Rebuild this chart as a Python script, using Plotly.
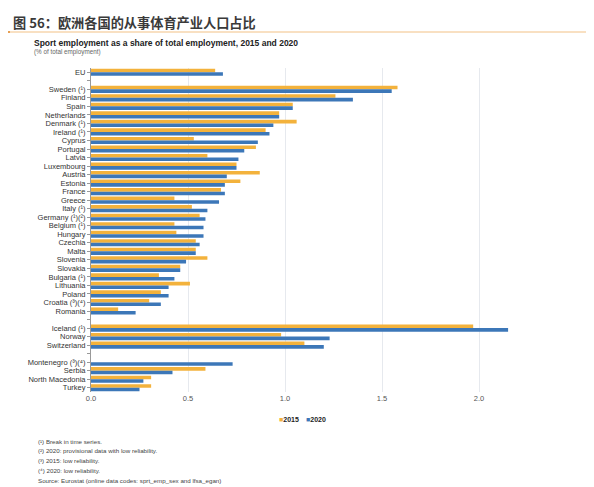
import plotly.graph_objects as go

categories = ["EU", " ",
              "Sweden (¹)", "Finland", "Spain", "Netherlands", "Denmark (¹)", "Ireland (¹)",
              "Cyprus", "Portugal", "Latvia", "Luxembourg", "Austria", "Estonia", "France",
              "Greece", "Italy (¹)", "Germany (¹)(²)", "Belgium (¹)", "Hungary", "Czechia",
              "Malta", "Slovenia", "Slovakia", "Bulgaria (¹)", "Lithuania", "Poland",
              "Croatia (³)(⁴)", "Romania", "  ",
              "Iceland (¹)", "Norway", "Switzerland", "   ",
              "Montenegro (³)(⁴)", "Serbia", "North Macedonia", "Turkey"]

values_2015 = [0.64, None,
               1.58, 1.26, 1.04, 0.97, 1.06, 0.90,
               0.53, 0.85, 0.60, 0.75, 0.87, 0.77, 0.67,
               0.43, 0.52, 0.56, 0.43, 0.44, 0.54,
               0.54, 0.60, 0.46, 0.35, 0.51, 0.36,
               0.30, 0.14, None,
               1.97, 0.98, 1.10, None,
               None, 0.59, 0.31, 0.31]

values_2020 = [0.68, None,
               1.55, 1.35, 1.04, 0.97, 0.94, 0.92,
               0.86, 0.79, 0.76, 0.75, 0.70, 0.69, 0.69,
               0.66, 0.60, 0.59, 0.58, 0.58, 0.56,
               0.54, 0.49, 0.46, 0.43, 0.40, 0.40,
               0.36, 0.23, None,
               2.15, 1.23, 1.20, None,
               0.73, 0.42, 0.27, 0.25]

series_names = ["2015", "2020"]
x_ticks = [0.0, 0.5, 1.0, 1.5, 2.0]
x_tick_labels = ["0.0", "0.5", "1.0", "1.5", "2.0"]

ORANGE = "#F3B23C"
BLUE = "#3C77B8"
FONT = "Liberation Sans, Arial, sans-serif"

# the page body adds an 8px margin, so figure coords = page coords - 8
OFF = 8
W, H = 594, 487
L = 91 - OFF
T = 68 - OFF
R = W - (576 - OFF)
B = H - (392 - OFF)
PW = W - L - R
PH = H - T - B

def px_x(x):
    return (x - OFF - L) / PW

def px_y(y):
    return (H - B - (y - OFF)) / PH

fig = go.Figure()
fig.add_trace(go.Bar(y=categories, x=values_2015, name=series_names[0], orientation="h",
                     marker=dict(color=ORANGE, line=dict(width=0))))
fig.add_trace(go.Bar(y=categories, x=values_2020, name=series_names[1], orientation="h",
                     marker=dict(color=BLUE, line=dict(width=0))))

fig.update_layout(
    width=W, height=H,
    margin=dict(l=L, r=R, t=T, b=B, autoexpand=False),
    paper_bgcolor="white", plot_bgcolor="white",
    barmode="group", bargap=0.16, bargroupgap=0.0,
    font=dict(family=FONT, size=8, color="#333333"),
    showlegend=False,
    xaxis=dict(range=[0, 2.5], tickvals=x_ticks, ticktext=x_tick_labels,
               showgrid=True, gridcolor="#E6E9EE", gridwidth=1,
               zeroline=False, showline=False, ticks="",
               tickfont=dict(size=7.5, color="#555555")),
    yaxis=dict(type="category", categoryorder="array", categoryarray=categories,
               tickmode="array", tickvals=categories, ticktext=categories,
               autorange="reversed", showline=True, linecolor="#999999", linewidth=1,
               ticks="outside", ticklen=3, tickcolor="#999999",
               tickfont=dict(size=7.5, color="#333333"), showgrid=False),
)

# Chinese figure title and orange rule
fig.add_annotation(text="图 56：欧洲各国的从事体育产业人口占比", xref="paper", yref="paper",
                   x=px_x(11), y=px_y(22), xanchor="left", yanchor="middle",
                   showarrow=False,
                   font=dict(family="Noto Sans CJK SC", size=13.2, color="#3a3a3a", weight="bold"))
fig.add_shape(type="line", xref="paper", yref="paper",
              x0=px_x(0), x1=px_x(W + 10), y0=px_y(32), y1=px_y(32),
              line=dict(color="#F2C185", width=1))
fig.add_shape(type="line", xref="paper", yref="paper",
              x0=px_x(0), x1=px_x(10), y0=px_y(32), y1=px_y(32),
              line=dict(color="#E08A2E", width=1.5))

fig.add_annotation(text="<b>Sport employment as a share of total employment, 2015 and 2020</b>",
                   xref="paper", yref="paper", x=px_x(32), y=px_y(43),
                   xanchor="left", yanchor="middle", showarrow=False,
                   font=dict(family=FONT, size=8.5, color="#222222"))
fig.add_annotation(text="(% of total employment)",
                   xref="paper", yref="paper", x=px_x(32), y=px_y(52),
                   xanchor="left", yanchor="middle", showarrow=False,
                   font=dict(family=FONT, size=6.3, color="#666666"))

# legend drawn as annotations
legend_x = [277, 304]
legend_colors = [ORANGE, BLUE]
for name, lx, c in zip(series_names, legend_x, legend_colors):
    fig.add_annotation(text=f"<span style='color:{c}'>■</span><b>{name}</b>",
                       xref="paper", yref="paper", x=px_x(lx), y=px_y(419),
                       xanchor="left", yanchor="middle", showarrow=False,
                       font=dict(family=FONT, size=7, color="#222222"))

footnotes = ["(¹) Break in time series.",
             "(²) 2020: provisional data with low reliability.",
             "(³) 2015: low reliability.",
             "(⁴) 2020: low reliability.",
             "Source: Eurostat (online data codes: sprt_emp_sex and lfsa_egan)"]
for i, t in enumerate(footnotes):
    fig.add_annotation(text=t, xref="paper", yref="paper",
                       x=px_x(36), y=px_y(441 + i * 9.8),
                       xanchor="left", yanchor="middle", showarrow=False,
                       font=dict(family=FONT, size=6.2, color="#444444"))

fig.write_html("out.html")
